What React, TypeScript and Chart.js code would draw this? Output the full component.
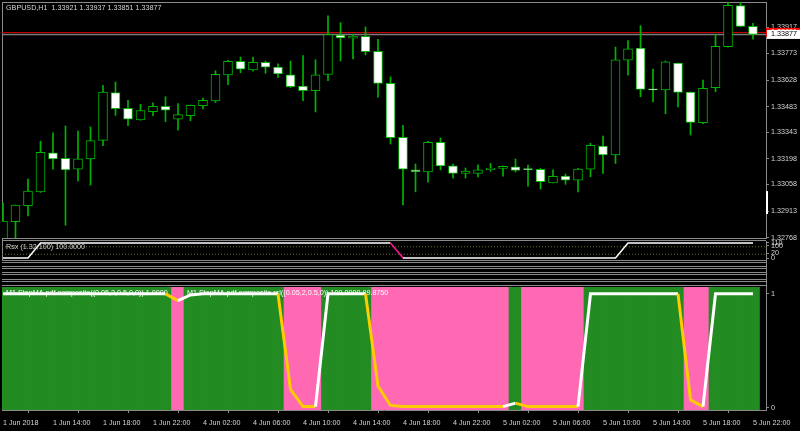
import React, { useEffect, useRef } from 'react';
import { Chart, registerables } from 'chart.js';

Chart.register(...registerables);

const FONT_FAMILY = '"Liberation Sans", Arial, sans-serif';
const FONT_SIZE = 7.2;
const TEXT = '#d4d4d4';
const FRAME = '#8a8a8a';
const CANDLE = '#00b400';
const UP_FILL = '#228b22';
const DN_FILL = '#ff69b4';

const headerText = 'GBPUSD,H1  1.33921 1.33937 1.33851 1.33877';
const rsxTitle = 'Rsx (1.32,100) 100.0000';
const stepTitle1 = 'M1 StepMA pdf composite((0.05,2,0.5,0,0)) 1.0000';
const stepTitle2 = 'M1 StepMA pdf composite rsi((0.05,2,0.5,0)) 100.0000 99.8750';

const timeLabels = ['1 Jun 2018', '1 Jun 14:00', '1 Jun 18:00', '1 Jun 22:00', '4 Jun 02:00', '4 Jun 06:00', '4 Jun 10:00', '4 Jun 14:00', '4 Jun 18:00', '4 Jun 22:00', '5 Jun 02:00', '5 Jun 06:00', '5 Jun 10:00', '5 Jun 14:00', '5 Jun 18:00', '5 Jun 22:00'];
const timeLabelBars = [0, 4, 8, 12, 16, 20, 24, 28, 32, 36, 40, 44, 48, 52, 56, 60];

const opens = [1.32755, 1.32855, 1.32942, 1.33018, 1.33231, 1.33201, 1.33141, 1.33197, 1.33299, 1.33559,
  1.33474, 1.33411, 1.33455, 1.33485, 1.33415, 1.33433, 1.33488, 1.33514, 1.33656, 1.33730,
  1.33684, 1.33725, 1.33699, 1.33657, 1.33595, 1.33570, 1.33659, 1.33874, 1.33856, 1.33867,
  1.33785, 1.33610, 1.33315, 1.33138, 1.33127, 1.33288, 1.33160, 1.33119, 1.33119, 1.33138,
  1.33146, 1.33155, 1.33141, 1.33141, 1.33067, 1.33104, 1.33081, 1.33141, 1.33268, 1.33219,
  1.33736, 1.33803, 1.33577, 1.33574, 1.33720, 1.33562, 1.33395, 1.33586, 1.33810, 1.34034,
  1.33921];
const highs = [1.32957, 1.32946, 1.33088, 1.33294, 1.33340, 1.33377, 1.33350, 1.33372, 1.33599, 1.33617,
  1.33517, 1.33496, 1.33504, 1.33537, 1.33499, 1.33492, 1.33530, 1.33679, 1.33736, 1.33754,
  1.33754, 1.33732, 1.33716, 1.33732, 1.33761, 1.33739, 1.33979, 1.33941, 1.33876, 1.33918,
  1.33850, 1.33645, 1.33381, 1.33170, 1.33294, 1.33312, 1.33170, 1.33148, 1.33166, 1.33173,
  1.33159, 1.33197, 1.33164, 1.33146, 1.33138, 1.33115, 1.33146, 1.33283, 1.33322, 1.33808,
  1.33843, 1.33925, 1.33688, 1.33732, 1.33721, 1.33563, 1.33628, 1.33876, 1.34062, 1.34052,
  1.33937];
const lows = [1.32727, 1.32750, 1.32887, 1.33015, 1.33141, 1.32836, 1.33077, 1.33055, 1.33270, 1.33435,
  1.33379, 1.33409, 1.33433, 1.33401, 1.33355, 1.33406, 1.33470, 1.33506, 1.33603, 1.33668,
  1.33676, 1.33665, 1.33643, 1.33586, 1.33515, 1.33454, 1.33624, 1.33732, 1.33743, 1.33765,
  1.33535, 1.33279, 1.32947, 1.33018, 1.33071, 1.33138, 1.33093, 1.33093, 1.33100, 1.33130,
  1.33104, 1.33126, 1.33049, 1.33033, 1.33066, 1.33059, 1.33018, 1.33100, 1.33119, 1.33173,
  1.33654, 1.33537, 1.33508, 1.33444, 1.33482, 1.33328, 1.33390, 1.33564, 1.33808, 1.33919,
  1.33851];
const closes = [1.32858, 1.32946, 1.33022, 1.33233, 1.33197, 1.33137, 1.33198, 1.33297, 1.33563, 1.33472,
  1.33414, 1.33461, 1.33485, 1.33463, 1.33439, 1.33490, 1.33517, 1.33659, 1.33730, 1.33687,
  1.33725, 1.33699, 1.33661, 1.33592, 1.33570, 1.33657, 1.33876, 1.33858, 1.33868, 1.33783,
  1.33610, 1.33313, 1.33141, 1.33127, 1.33288, 1.33159, 1.33119, 1.33131, 1.33138, 1.33148,
  1.33157, 1.33135, 1.33139, 1.33073, 1.33102, 1.33082, 1.33142, 1.33272, 1.33219, 1.33739,
  1.33799, 1.33577, 1.33574, 1.33727, 1.33561, 1.33397, 1.33583, 1.33812, 1.34036, 1.33921,
  1.33877];

const priceTicks = [1.33917, 1.33773, 1.33628, 1.33483, 1.33343, 1.33198, 1.33058, 1.32913, 1.32768];
const priceMin = 1.32766;
const priceMax = 1.34054;
const bidPrice = 1.33877;
const askPrice = 1.33891;
const scrollMark = [1.32897, 1.33022];

const rsxValues = [0, 0, 0, 100, 100, 100, 100, 100, 100, 100,
  100, 100, 100, 100, 100, 100, 100, 100, 100, 100,
  100, 100, 100, 100, 100, 100, 100, 100, 100, 100,
  100, 100, 0, 0, 0, 0, 0, 0, 0, 0,
  0, 0, 0, 0, 0, 0, 0, 0, 0, 0,
  100, 100, 100, 100, 100, 100, 100, 100, 100, 100,
  100];
const rsxLevels = [75, 25];
const rsxAxisTicks = [100, 80, 30, 0];
const rsxAxisText = ['110', '100', '20', '0'];

const trendState = [1, 1, 1, 1, 1, 1, 1, 1, 1, 1,
  1, 1, 1, 1, -1, 1, 1, 1, 1, 1,
  1, 1, 1, -1, -1, -1, 1, 1, 1, 1,
  -1, -1, -1, -1, -1, -1, -1, -1, -1, -1,
  -1, 1, -1, -1, -1, -1, -1, 1, 1, 1,
  1, 1, 1, 1, 1, -1, -1, 1, 1, 1,
  1];
const stepValues = [1, 1, 1, 1, 1, 1, 1, 1, 1, 1,
  1, 1, 1, 1, 0.94, 0.99, 1, 1, 1, 1,
  1, 1, 1, 0.16, 0.01, 0.01, 1, 1, 1, 1,
  0.19, 0.02, 0.01, 0.01, 0.01, 0.01, 0.01, 0.01, 0.01, 0.01,
  0.01, 0.04, 0.01, 0.01, 0.01, 0.01, 0.01, 1, 1, 1,
  1, 1, 1, 1, 1, 0.07, 0.01, 1, 1, 1,
  1];
const stepAxisTicks = [1, 0];
const stepMin = -0.02;
const stepMax = 1.06;

const X_MIN = -0.08;
const X_MAX = 61.04;
const AXIS_W = 34;

const font = () => ({ family: FONT_FAMILY, size: FONT_SIZE });
const fontStr = `${FONT_SIZE}px ${FONT_FAMILY}`;

function rightAxis(min: number, max: number, ticks: number[], fmt: (v: number, k: number) => string) {
  return {
    position: 'right' as const,
    min,
    max,
    beginAtZero: false,
    afterFit: (s: any) => { s.width = AXIS_W; s.paddingTop = 0; s.paddingBottom = 0; },
    afterBuildTicks: (s: any) => { s.ticks = ticks.map((v) => ({ value: v })); },
    ticks: { color: TEXT, font: font(), padding: 2, autoSkip: false, callback: (v: any, k: number) => fmt(Number(v), k) },
    grid: { drawOnChartArea: false, drawTicks: true, tickLength: 3, color: FRAME },
    border: { color: FRAME, width: 1 },
  };
}

const hiddenX = { type: 'linear' as const, min: X_MIN, max: X_MAX, offset: false, display: false };

export default function App() {
  const mainRef = useRef<HTMLCanvasElement>(null);
  const rsxRef = useRef<HTMLCanvasElement>(null);
  const botRef = useRef<HTMLCanvasElement>(null);

  useEffect(() => {
    const idx = opens.map((_, i) => i);
    const charts: Chart[] = [];

    const mainPlugin = {
      id: 'mainDeco',
      beforeDatasetsDraw(chart: any) {
        const { ctx, chartArea } = chart;
        const y = chart.scales.y;
        ctx.save();
        ctx.lineWidth = 1;
        ctx.strokeStyle = '#c40000';
        const ya = Math.round(y.getPixelForValue(askPrice)) + 0.5;
        ctx.beginPath(); ctx.moveTo(chartArea.left, ya); ctx.lineTo(chartArea.right, ya); ctx.stroke();
        ctx.strokeStyle = '#7c7c7c';
        ctx.lineWidth = 1.5;
        const yb = y.getPixelForValue(bidPrice);
        ctx.beginPath(); ctx.moveTo(chartArea.left, yb); ctx.lineTo(chartArea.right, yb); ctx.stroke();
        ctx.restore();
      },
      afterDraw(chart: any) {
        const { ctx, chartArea } = chart;
        const y = chart.scales.y;
        ctx.save();
        ctx.font = fontStr;
        ctx.textBaseline = 'middle';
        ctx.fillStyle = TEXT;
        ctx.fillText(headerText, 6, 8);
        const ya = y.getPixelForValue(askPrice);
        ctx.fillStyle = '#ff0000';
        ctx.fillRect(chartArea.right, ya - 4, AXIS_W, 9);
        ctx.fillStyle = '#ffffff';
        ctx.fillText(askPrice.toFixed(5), chartArea.right + 5, ya);
        const yb = y.getPixelForValue(bidPrice);
        ctx.fillStyle = '#ffffff';
        ctx.fillRect(chartArea.right + 1, yb - 4.5, AXIS_W - 1, 9);
        ctx.fillStyle = '#000000';
        ctx.fillText(bidPrice.toFixed(5), chartArea.right + 5, yb);
        const m1 = y.getPixelForValue(scrollMark[1]);
        const m0 = y.getPixelForValue(scrollMark[0]);
        ctx.fillStyle = '#ffffff';
        ctx.fillRect(chartArea.right, m1, 2, m0 - m1);
        ctx.restore();
      },
    };

    if (mainRef.current) {
      charts.push(new Chart(mainRef.current, {
        type: 'bar',
        data: {
          datasets: [
            {
              data: idx.map((i) => ({ x: i, y: [opens[i], closes[i]] })) as any,
              backgroundColor: idx.map((i) => (closes[i] >= opens[i] ? '#000000' : '#ffffff')),
              borderColor: CANDLE,
              borderWidth: 1,
              borderSkipped: false,
              barThickness: 9,
              minBarLength: 1,
              grouped: false,
              order: 1,
            } as any,
            {
              data: idx.map((i) => ({ x: i, y: [lows[i], highs[i]] })) as any,
              backgroundColor: CANDLE,
              borderWidth: 0,
              barThickness: 1,
              grouped: false,
              order: 2,
            } as any,
          ],
        },
        options: {
          animation: false,
          responsive: false,
          maintainAspectRatio: false,
          layout: { padding: { left: 2, top: 2, bottom: 2, right: 0 } },
          plugins: { legend: { display: false }, tooltip: { enabled: false } },
          scales: {
            x: hiddenX,
            y: rightAxis(priceMin, priceMax, priceTicks, (v) => v.toFixed(5)),
          } as any,
        },
        plugins: [mainPlugin],
      }));
    }

    const rsxPlugin = {
      id: 'rsxDeco',
      afterDraw(chart: any) {
        const { ctx } = chart;
        ctx.save();
        ctx.font = fontStr;
        ctx.textBaseline = 'middle';
        ctx.fillStyle = TEXT;
        ctx.fillText(rsxTitle, 6, 7);
        ctx.restore();
      },
    };

    if (rsxRef.current) {
      charts.push(new Chart(rsxRef.current, {
        type: 'line',
        data: {
          datasets: [
            {
              data: idx.map((i) => ({ x: i, y: rsxValues[i] })),
              borderColor: '#ffffff',
              borderWidth: 1.5,
              pointRadius: 0,
              segment: {
                borderColor: (c: any) => (c.p1.parsed.y < c.p0.parsed.y ? '#ff1493' : '#ffffff'),
              },
              order: 1,
            } as any,
            ...rsxLevels.map((lv) => ({
              data: [{ x: X_MIN, y: lv }, { x: X_MAX, y: lv }],
              borderColor: '#6f6f2c',
              borderWidth: 1,
              borderDash: [1, 2],
              pointRadius: 0,
              order: 2,
            })),
          ],
        },
        options: {
          animation: false,
          responsive: false,
          maintainAspectRatio: false,
          layout: { padding: { left: 2, top: 1, bottom: 2, right: 0 } },
          plugins: { legend: { display: false }, tooltip: { enabled: false } },
          scales: {
            x: hiddenX,
            y: rightAxis(-13.3, 113.3, rsxAxisTicks, (_v, k) => rsxAxisText[k] ?? ''),
          } as any,
        },
        plugins: [rsxPlugin],
      }));
    }

    const botPlugin = {
      id: 'botDeco',
      afterDatasetDraw(chart: any, args: any) {
        if (args.meta.type !== 'bar') return;
        const { ctx } = chart;
        ctx.save();
        ctx.font = fontStr;
        ctx.textBaseline = 'middle';
        ctx.fillStyle = '#ffffff';
        ctx.fillText(stepTitle1, 6, 6);
        ctx.fillText(stepTitle2, 187, 6);
        ctx.restore();
      },
    };

    if (botRef.current) {
      charts.push(new Chart(botRef.current, {
        type: 'bar',
        data: {
          datasets: [
            {
              type: 'line',
              data: idx.map((i) => ({ x: i, y: stepValues[i] })),
              borderColor: '#ffffff',
              borderWidth: 3,
              pointRadius: 0,
              segment: {
                borderColor: (c: any) => (trendState[c.p1DataIndex] > 0 ? '#ffffff' : '#ffcc00'),
              },
              order: 1,
            } as any,
            {
              type: 'bar',
              data: idx.map((i) => ({ x: i, y: [stepMin, stepMax] })) as any,
              backgroundColor: idx.map((i) => (trendState[i] > 0 ? UP_FILL : DN_FILL)),
              borderWidth: 0,
              barThickness: 13,
              grouped: false,
              order: 2,
            } as any,
          ],
        },
        options: {
          animation: false,
          responsive: false,
          maintainAspectRatio: false,
          layout: { padding: { left: 2, top: 0, bottom: 0, right: 0 } },
          plugins: { legend: { display: false }, tooltip: { enabled: false } },
          scales: {
            x: {
              type: 'linear',
              min: X_MIN,
              max: X_MAX,
              offset: false,
              afterFit: (s: any) => { s.height = 21; s.paddingLeft = 0; s.paddingRight = 0; },
              afterBuildTicks: (s: any) => { s.ticks = timeLabelBars.map((v) => ({ value: v })); },
              ticks: {
                color: TEXT,
                font: font(),
                align: 'start',
                padding: 6,
                maxRotation: 0,
                autoSkip: false,
                callback: (_v: any, k: number) => timeLabels[k],
              },
              grid: { drawOnChartArea: false, drawTicks: true, tickLength: 3, color: FRAME },
              border: { color: FRAME, width: 1 },
            },
            y: rightAxis(stepMin, stepMax, stepAxisTicks, (v) => String(v)),
          } as any,
        },
        plugins: [botPlugin],
      }));
    }

    return () => charts.forEach((c) => c.destroy());
  }, []);

  const hLines = [2, 238, 240, 260, 262, 266, 268, 272, 274, 279, 281, 285];
  return (
    <div style={{ position: 'absolute', left: 0, top: 0, width: 800, height: 431, background: '#000', overflow: 'hidden' }}>
      {hLines.map((y) => (
        <div key={y} style={{ position: 'absolute', left: 2, top: y, width: 764, height: 1, background: FRAME }} />
      ))}
      <div style={{ position: 'absolute', left: 2, top: 2, width: 1, height: 258, background: FRAME }} />
      <div style={{ position: 'absolute', left: 766, top: 260, width: 1, height: 28, background: FRAME }} />
      <canvas ref={mainRef} width={800} height={240} style={{ position: 'absolute', left: 0, top: 0, width: 800, height: 240 }} />
      <canvas ref={rsxRef} width={800} height={22} style={{ position: 'absolute', left: 0, top: 240, width: 800, height: 22 }} />
      <canvas ref={botRef} width={800} height={144} style={{ position: 'absolute', left: 0, top: 287, width: 800, height: 144 }} />
    </div>
  );
}
